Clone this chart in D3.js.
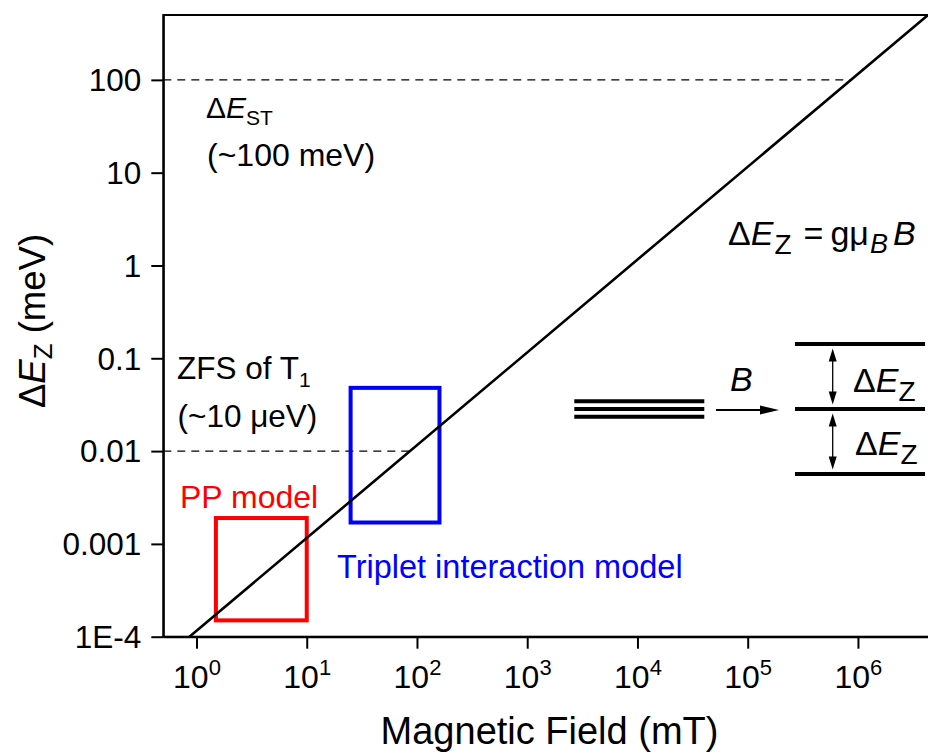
<!DOCTYPE html>
<html>
<head>
<meta charset="utf-8">
<script src="https://cdn.jsdelivr.net/npm/d3@7"></script>
<style>
  body { margin: 0; background: #fff; }
  svg { display: block; }
  text { font-family: "Liberation Sans", Arial, sans-serif; fill: #000; }
</style>
</head>
<body>
<svg id="chart" width="928" height="752"></svg>
<script>
// ---- data ----
const xTickValues = [1, 10, 100, 1e3, 1e4, 1e5, 1e6];
const yTickValues = [1e-4, 1e-3, 1e-2, 1e-1, 1, 10, 100];
const yTickLabels = ["1E-4", "0.001", "0.01", "0.1", "1", "10", "100"];

// Zeeman splitting ΔE_Z = g·μB·B (g = 2): end points of the line
const zeemanField = [0.864, 4.4e6];   // mT
const zeemanEnergy = [1.0e-4, 509];   // meV

// reference energy levels (ΔE_ST ~100 meV, ZFS of T1 ~10 μeV)
const refLevels = [100, 0.01];

// parameter ranges covered by the two models
const boxLabels = ["PP model", "Triplet interaction model"];
const boxFieldMin = [1.5, 25];
const boxFieldMax = [10, 160];
const boxEnergyMin = [1.5e-4, 1.7e-3];
const boxEnergyMax = [1.9e-3, 0.048];
const boxColors = ["#ff0000", "#0000ff"];

// ---- layout ----
const plot = { left: 163.3, right: 935, top: 15, bottom: 636.7 };
const x = d3.scaleLog().domain([0.5, 5e6]).range([plot.left, plot.right]);
const y = d3.scaleLog().domain([1e-4, 500]).range([plot.bottom, plot.top]);

const svg = d3.select("#chart");

svg.append("defs").append("clipPath").attr("id", "plot-clip")
  .append("rect")
  .attr("x", plot.left).attr("y", plot.top)
  .attr("width", plot.right - plot.left).attr("height", plot.bottom - plot.top);

// frame
svg.append("rect")
  .attr("x", plot.left).attr("y", plot.top)
  .attr("width", plot.right - plot.left).attr("height", plot.bottom - plot.top)
  .attr("fill", "none").attr("stroke", "#000").attr("stroke-width", 2);

// y axis
const yAxis = svg.append("g")
  .attr("transform", `translate(${plot.left},0)`)
  .call(d3.axisLeft(y).tickValues(yTickValues)
    .tickFormat((d, i) => yTickLabels[i])
    .tickSize(12).tickSizeOuter(0).tickPadding(10));
yAxis.select(".domain").attr("stroke-width", 2);
yAxis.selectAll(".tick line").attr("stroke-width", 2);
yAxis.selectAll(".tick text")
  .attr("font-size", 31.5)
  .attr("font-family", "Liberation Sans, Arial, sans-serif")
  .attr("dy", "0.34em");

// x axis with 10^n labels
const xAxis = svg.append("g")
  .attr("transform", `translate(0,${plot.bottom})`)
  .call(d3.axisBottom(x).tickValues(xTickValues)
    .tickFormat("").tickSize(12).tickSizeOuter(0));
xAxis.select(".domain").attr("stroke-width", 2);
xAxis.selectAll(".tick line").attr("stroke-width", 2);
xAxis.selectAll(".tick").append("text")
  .attr("y", 51)
  .attr("text-anchor", "middle")
  .attr("font-size", 32)
  .each(function (d) {
    const t = d3.select(this);
    t.append("tspan").text("10");
    t.append("tspan").attr("dy", -13).attr("font-size", 22)
      .text(Math.round(Math.log10(d)));
  });

// axis titles
svg.append("text")
  .attr("x", 549.5).attr("y", 744)
  .attr("text-anchor", "middle")
  .attr("font-size", 38)
  .text("Magnetic Field (mT)");

const yTitle = svg.append("text")
  .attr("transform", "translate(45,321) rotate(-90)")
  .attr("text-anchor", "middle")
  .attr("font-size", 36.5);
yTitle.append("tspan").text("Δ");
yTitle.append("tspan").attr("font-style", "italic").text("E");
yTitle.append("tspan").attr("font-size", 26).attr("dy", 7).text("Z");
yTitle.append("tspan").attr("dy", -7).text(" (meV)");

// plot contents
const inner = svg.append("g").attr("clip-path", "url(#plot-clip)");

// field at which the Zeeman line reaches a given energy (log-log line)
const lg = Math.log10;
function fieldAt(E) {
  const t = (lg(E) - lg(zeemanEnergy[0])) / (lg(zeemanEnergy[1]) - lg(zeemanEnergy[0]));
  return Math.pow(10, lg(zeemanField[0]) + t * (lg(zeemanField[1]) - lg(zeemanField[0])));
}

// dashed reference levels up to the Zeeman line
inner.selectAll("line.ref")
  .data(refLevels)
  .join("line")
  .attr("class", "ref")
  .attr("x1", x(0.5)).attr("x2", d => x(fieldAt(d)))
  .attr("y1", d => y(d)).attr("y2", d => y(d))
  .attr("stroke", "#000").attr("stroke-width", 1.2)
  .attr("stroke-dasharray", "8,6");

// model ranges
inner.selectAll("rect.box")
  .data(boxLabels)
  .join("rect")
  .attr("class", "box")
  .attr("x", (d, i) => x(boxFieldMin[i]))
  .attr("y", (d, i) => y(boxEnergyMax[i]))
  .attr("width", (d, i) => x(boxFieldMax[i]) - x(boxFieldMin[i]))
  .attr("height", (d, i) => y(boxEnergyMin[i]) - y(boxEnergyMax[i]))
  .attr("fill", "none")
  .attr("stroke", (d, i) => boxColors[i])
  .attr("stroke-width", 4);

// Zeeman line
inner.append("path")
  .datum(zeemanField.map((b, i) => [b, zeemanEnergy[i]]))
  .attr("d", d3.line().x(d => x(d[0])).y(d => y(d[1])))
  .attr("fill", "none").attr("stroke", "#000").attr("stroke-width", 2.6);

// annotations
function subText(xp, yp, size, parts, color) {
  const t = svg.append("text").attr("x", xp).attr("y", yp)
    .attr("font-size", size);
  if (color) t.style("fill", color);
  parts.forEach(p => {
    const s = t.append("tspan").text(p.t);
    if (p.it) s.attr("font-style", "italic");
    if (p.sub) s.attr("font-size", p.sub);
    if (p.dy) s.attr("dy", p.dy);
    if (p.dx) s.attr("dx", p.dx);
  });
  return t;
}

subText(206, 118, 30, [{ t: "Δ" }, { t: "E", it: true }, { t: "ST", sub: 21, dy: 7 }]);
subText(207, 165.5, 32, [{ t: "(~100 meV)" }]);

subText(177, 379, 31.5, [{ t: "ZFS of T" }, { t: "1", sub: 21, dy: 8 }]);
subText(177.5, 427, 31.5, [{ t: "(~10 μeV)" }]);

subText(180, 508, 32, [{ t: boxLabels[0] }], boxColors[0]);
subText(337, 578, 32.5, [{ t: boxLabels[1] }], boxColors[1]);

subText(728, 245, 34, [
  { t: "Δ" }, { t: "E", it: true }, { t: "Z", sub: 28, dy: 9, dx: 1 },
  { t: "=", dy: -9, dx: 12 }, { t: "gμ", dx: 7 },
  { t: "B", it: true, sub: 27, dy: 8, dx: 1 },
  { t: "B", it: true, dy: -8, dx: 5 }
]);

// energy-level sketch: degenerate triplet splitting in a field
const sketch = svg.append("g");
const tripletX = [574.3, 704.3];
const tripletY = [401.3, 409, 416.7];
sketch.selectAll("line.deg").data(tripletY).join("line")
  .attr("x1", tripletX[0]).attr("x2", tripletX[1])
  .attr("y1", d => d).attr("y2", d => d)
  .attr("stroke", "#000").attr("stroke-width", 4);

// field arrow
sketch.append("line")
  .attr("x1", 716).attr("x2", 764).attr("y1", 410).attr("y2", 410)
  .attr("stroke", "#000").attr("stroke-width", 2);
sketch.append("path")
  .attr("d", "M779,410 L760,405.5 L760,414.5 Z").attr("fill", "#000");
subText(730, 391, 34, [{ t: "B", it: true }]);

// split levels
const splitX = [795, 925];
const splitY = [344, 409, 474];
sketch.selectAll("line.split").data(splitY).join("line")
  .attr("x1", splitX[0]).attr("x2", splitX[1])
  .attr("y1", d => d).attr("y2", d => d)
  .attr("stroke", "#000").attr("stroke-width", 4);

// double arrows between levels
function doubleArrow(xp, y1, y2) {
  sketch.append("line")
    .attr("x1", xp).attr("x2", xp).attr("y1", y1 + 8).attr("y2", y2 - 8)
    .attr("stroke", "#000").attr("stroke-width", 1.3);
  sketch.append("path")
    .attr("d", `M${xp},${y1} L${xp - 4},${y1 + 13} L${xp + 4},${y1 + 13} Z`)
    .attr("fill", "#000");
  sketch.append("path")
    .attr("d", `M${xp},${y2} L${xp - 4},${y2 - 13} L${xp + 4},${y2 - 13} Z`)
    .attr("fill", "#000");
}
doubleArrow(832.7, 348.5, 404.5);
doubleArrow(832.7, 413.5, 469.5);

subText(853, 391.5, 34, [{ t: "Δ" }, { t: "E", it: true }, { t: "Z", sub: 28, dy: 9 }]);
subText(855, 455, 34, [{ t: "Δ" }, { t: "E", it: true }, { t: "Z", sub: 28, dy: 9 }]);
</script>
</body>
</html>
